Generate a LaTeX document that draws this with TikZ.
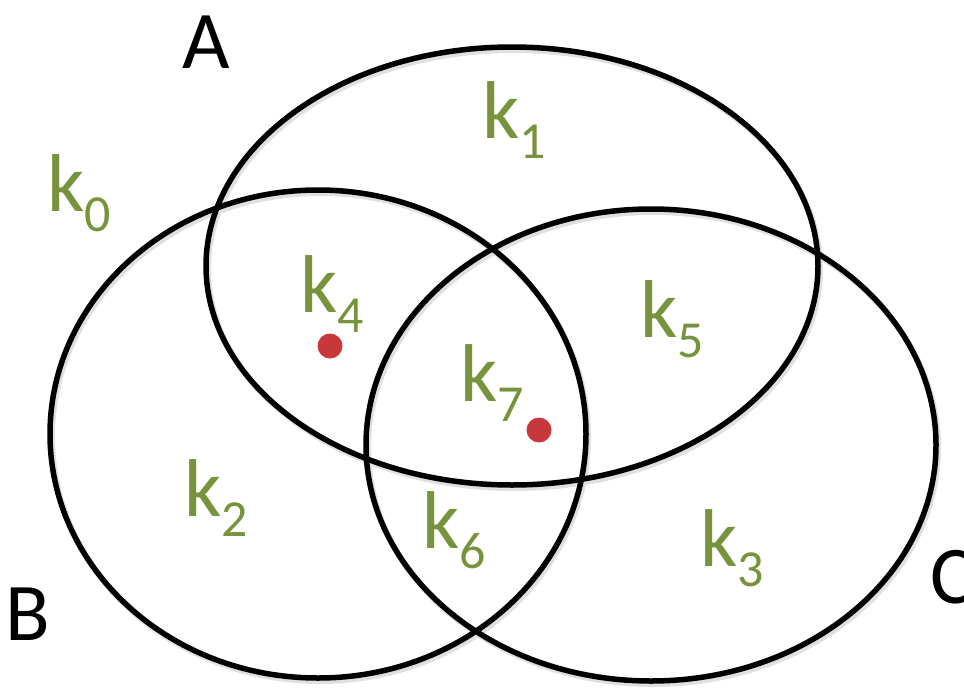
\documentclass[tikz,border=0pt]{standalone}
\usepackage{fontspec}
\setmainfont{Carlito}
\definecolor{kgreen}{HTML}{77933C}
\definecolor{dotred}{HTML}{C8383A}
\newcommand{\kk}[1]{k\raisebox{-20pt}{\fontsize{52}{60}\selectfont #1}}
\begin{document}
\begin{tikzpicture}[x=1pt,y=-1pt,
  setline/.style={draw=black,line width=5.5pt},
  setshadow/.style={draw=black!12,line width=6pt},
  klabel/.style={text=kgreen,font=\fontsize{82}{90}\selectfont,anchor=base west,inner sep=0pt},
  setname/.style={text=black,font=\fontsize{82}{90}\selectfont,anchor=base,inner sep=0pt},
  dot/.style={circle,fill=dotred,inner sep=0pt,minimum size=25pt}]
\useasboundingbox (0,0) rectangle (964,688);
% shadows
\draw[setshadow] (514,269) ellipse [x radius=306, y radius=219];
\draw[setshadow] (320,437) ellipse [x radius=268, y radius=244];
\draw[setshadow] (653,448) ellipse [x radius=285, y radius=236];
% sets
\draw[setline] (512,266) ellipse [x radius=306, y radius=219];
\draw[setline] (318,434) ellipse [x radius=268, y radius=244];
\draw[setline] (651,445) ellipse [x radius=285, y radius=236];
% set names
\node[setname] (A) at (206,68) {A};
\node[setname] (B) at (28,640) {B};
\node[setname] (C) at (952,603) {C};
% region labels
\node[klabel] (k0) at (47,211) {\kk{0}};
\node[klabel] (k1) at (482,138) {\kk{1}};
\node[klabel] (k4) at (300,312) {\kk{4}};
\node[klabel] (k5) at (640,337) {\kk{5}};
\node[klabel] (k7) at (460,401) {\kk{7}};
\node[klabel] (k2) at (184,516) {\kk{2}};
\node[klabel] (k6) at (422,548) {\kk{6}};
\node[klabel] (k3) at (700,566) {\kk{3}};
% points
\node[dot] (p1) at (330,346) {};
\node[dot] (p2) at (539,430) {};
\end{tikzpicture}
\end{document}
